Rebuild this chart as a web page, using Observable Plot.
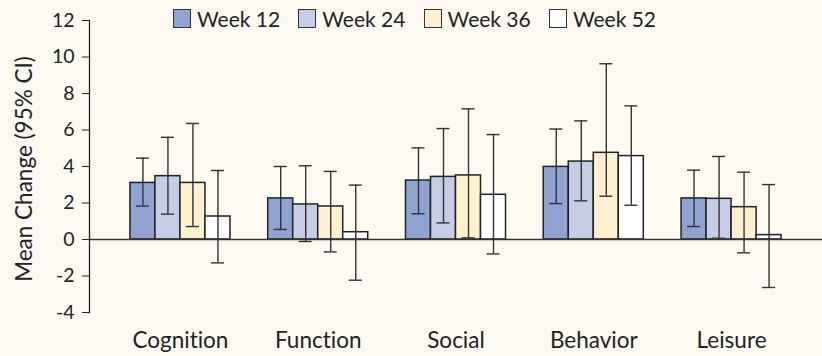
<!DOCTYPE html>
<html><head><meta charset="utf-8">
<script src="https://cdn.jsdelivr.net/npm/d3@7"></script>
<script src="https://cdn.jsdelivr.net/npm/@observablehq/plot@0.6"></script>
<style>
html,body{margin:0;padding:0;background:#fefaf2;}
#wrap{position:relative;width:822px;height:356px;font-family:Lato,sans-serif;}
#legend{position:absolute;left:173px;top:9px;display:flex;}
.item{width:125.3px;display:flex;align-items:center;font-size:21px;color:#222;height:19px;white-space:nowrap;}
.sw{width:18px;height:19px;border:1.5px solid #333;box-sizing:border-box;margin-right:6px;flex:none;}
svg{font-variant-ligatures:none;}
</style>
</head><body>
<div id="wrap"><div id="chart"></div><div id="legend"></div></div>
<script>
const categories = ["Cognition", "Function", "Social", "Behavior", "Leisure"];
const weeks = ["Week 12", "Week 24", "Week 36", "Week 52"];
const weekColors = ["#8fa3d2", "#c6cee6", "#fff0d2", "#ffffff"];
const yTicks = [-4, -2, 0, 2, 4, 6, 8, 10, 12];
const yLabel = "Mean Change (95% CI)";

const week12Mean = [3.10, 2.25, 3.23, 3.98, 2.25];
const week12Lo   = [1.83, 0.55, 1.41, 1.97, 0.71];
const week12Hi   = [4.46, 4.00, 5.02, 6.05, 3.80];
const week24Mean = [3.47, 1.92, 3.43, 4.27, 2.23];
const week24Lo   = [1.39, -0.11, 0.91, 2.12, 0.07];
const week24Hi   = [5.60, 4.04, 6.08, 6.50, 4.55];
const week36Mean = [3.10, 1.81, 3.51, 4.75, 1.77];
const week36Lo   = [0.71, -0.68, 0.09, 2.37, -0.73];
const week36Hi   = [6.36, 3.73, 7.16, 9.63, 3.69];
const week52Mean = [1.26, 0.40, 2.45, 4.57, 0.24];
const week52Lo   = [-1.28, -2.23, -0.79, 1.88, -2.63];
const week52Hi   = [3.78, 2.98, 5.75, 7.32, 3.01];

const means = [week12Mean, week24Mean, week36Mean, week52Mean];
const los = [week12Lo, week24Lo, week36Lo, week52Lo];
const his = [week12Hi, week24Hi, week36Hi, week52Hi];

const rows = [];
weeks.forEach((w, j) => categories.forEach((c, i) => rows.push({
  category: c, week: w, mean: means[j][i], lo: los[j][i], hi: his[j][i]
})));

const W = 822, H = 356, ML = 89, MR = 0, MT = 20, MB = 44;
const xOpts = {type: "band", domain: categories, paddingInner: 0.274, paddingOuter: 0.297, round: false};
const band = Plot.scale({x: {...xOpts, range: [ML, W - MR]}});
const bw = band.bandwidth;
const sub = bw / weeks.length;
const capHalf = 6.5;
const stroke = "#333";

const marks = [];
weeks.forEach((w, j) => {
  const data = rows.filter(d => d.week === w);
  marks.push(Plot.barY(data, {x: "category", y: "mean", fill: "week", stroke: "#222", strokeWidth: 1.5,
    insetLeft: j * sub, insetRight: (weeks.length - 1 - j) * sub}));
});
marks.push(Plot.ruleY([0], {stroke: "#333", strokeWidth: 1.5}));
weeks.forEach((w, j) => {
  const data = rows.filter(d => d.week === w);
  const off = (j + 0.5) * sub - bw / 2;
  marks.push(Plot.ruleX(data, {x: "category", y1: "lo", y2: "hi", dx: off, stroke, strokeWidth: 1.4}));
  const il = j * sub + sub / 2 - capHalf, ir = (weeks.length - 1 - j) * sub + sub / 2 - capHalf;
  marks.push(Plot.tickY(data, {x: "category", y: "lo", insetLeft: il, insetRight: ir, stroke, strokeWidth: 1.4}));
  marks.push(Plot.tickY(data, {x: "category", y: "hi", insetLeft: il, insetRight: ir, stroke, strokeWidth: 1.4}));
});
marks.push(Plot.frame({anchor: "left", stroke: "#222", strokeWidth: 1.3}));
marks.push(Plot.axisY({ticks: yTicks, tickFormat: d => String(d), tickSize: 7, tickPadding: 8, fontSize: 19.5,
  label: null, stroke: "#222"}));
marks.push(Plot.text([yLabel], {frameAnchor: "left", textAnchor: "middle", rotate: -90, dx: -65, dy: 2.5, fontSize: 22.5, fill: "#222"}));
marks.push(Plot.axisX({anchor: "bottom", tickSize: 0, tickPadding: 20, fontSize: 22.5, label: null}));

const chart = Plot.plot({
  width: W, height: H,
  marginLeft: ML, marginRight: MR, marginTop: MT, marginBottom: MB,
  style: {background: "transparent", fontFamily: "Lato, sans-serif", color: "#222", overflow: "visible"},
  x: {domain: categories, paddingInner: 0.274, paddingOuter: 0.297, round: false},
  y: {domain: [-4, 12]},
  color: {domain: weeks, range: weekColors},
  marks
});
document.getElementById("chart").appendChild(chart);

const cs = chart.scale("color");
const legend = document.getElementById("legend");
cs.domain.forEach((d, i) => {
  const item = document.createElement("div");
  item.className = "item";
  const sw = document.createElement("div");
  sw.className = "sw";
  sw.style.background = cs.range[i];
  item.appendChild(sw);
  item.appendChild(document.createTextNode(d));
  legend.appendChild(item);
});
</script>
</body></html>
